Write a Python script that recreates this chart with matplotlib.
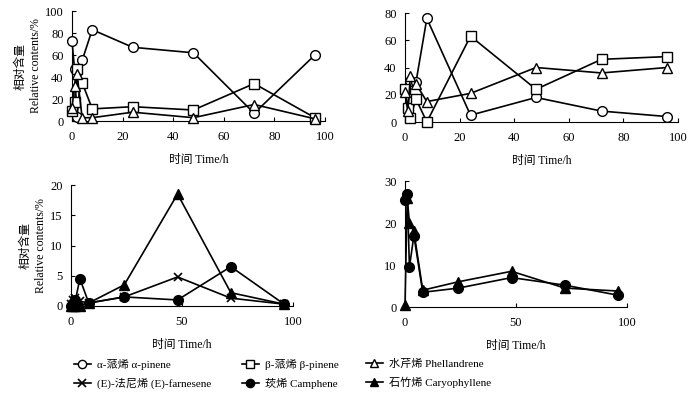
import matplotlib
matplotlib.use("Agg")
import matplotlib.pyplot as plt
from matplotlib.lines import Line2D
import numpy as np

plt.rcParams['font.family'] = ['Liberation Serif', 'Noto Sans CJK SC', 'DejaVu Sans']

# Time points (h)
time_h = [0, 1, 2, 4, 8, 24, 48, 72, 96]

# Top-left panel
tl_alpha = [73, 47, 4, 55, 83, 67, 62, 7, 60]
tl_beta = [9, 17, 47, 35, 11, 13, 10, 34, 3]
tl_phell = [12, 32, 43, 3, 3, 8, 3, 15, 2]

# Top-right panel
tr_alpha = [23, 9, 30, 29, 76, 5, 18, 8, 4]
tr_beta = [24, 10, 3, 17, 0, 63, 24, 46, 48]
tr_phell = [22, 8, 34, 28, 15, 21, 40, 36, 40]

# Bottom-left panel
bl_farn = [0.3, 1.0, 1.3, 0.8, 0.5, 1.5, 4.8, 1.3, 0.3]
bl_camph = [0, 0.5, 1.0, 4.5, 0.5, 1.5, 1.0, 6.5, 0.3]
bl_caryo = [0, 0, 0, 0, 0.5, 3.5, 18.5, 2.2, 0.3]

# Bottom-right panel
br_camph = [25.5, 27, 9.5, 17, 3.5, 4.5, 7, 5.2, 2.8]
br_caryo = [0.5, 26, 20, 18, 4, 6, 8.5, 4.5, 3.8]

legend_labels = ["α-蒎烯 α-pinene", "β-蒎烯 β-pinene", "水芹烯 Phellandrene",
                 "(E)-法尼烯 (E)-farnesene", "莰烯 Camphene", "石竹烯 Caryophyllene"]

top_xticks = [0, 20, 40, 60, 80, 100]
bot_xticks = [0, 50, 100]

W, H = 697, 397
fig = plt.figure(figsize=(W / 100, H / 100), dpi=100)

def ax_px(x0, x1, ytop, ybot):
    return fig.add_axes([x0 / W, 1 - ybot / H, (x1 - x0) / W, (ybot - ytop) / H])

styles = {
    'alpha': dict(marker='o', mfc='white', mec='black', ms=7),
    'beta': dict(marker='s', mfc='white', mec='black', ms=7),
    'phell': dict(marker='^', mfc='white', mec='black', ms=7),
    'farn': dict(marker='x', mfc='black', mec='black', ms=6, mew=1.2),
    'camph': dict(marker='o', mfc='black', mec='black', ms=7),
    'caryo': dict(marker='^', mfc='black', mec='black', ms=7),
}

def plot_series(ax, y, key):
    ax.plot(time_h, y, color='black', lw=1.2, clip_on=False, zorder=3, **styles[key])

def style_axes(ax, xticks, yticks, ylim, ylabel=True):
    ax.set_xlim(0, 100)
    ax.set_ylim(*ylim)
    ax.set_xticks(xticks)
    ax.set_yticks(yticks)
    for s in ['top', 'right']:
        ax.spines[s].set_visible(False)
    for s in ['left', 'bottom']:
        ax.spines[s].set_linewidth(0.8)
    ax.tick_params(direction='in', length=3, width=0.8, labelsize=9)
    ax.tick_params(axis='x', pad=7)
    ax.tick_params(axis='y', pad=6)
    ax.set_xlabel("时间 Time/h", fontsize=8.5, labelpad=8)
    if ylabel:
        ax.set_ylabel("相对含量\nRelative contents/%", fontsize=8.5, labelpad=2, linespacing=1.4)

ax1 = ax_px(72, 325, 11, 121)
plot_series(ax1, tl_alpha, 'alpha')
plot_series(ax1, tl_beta, 'beta')
plot_series(ax1, tl_phell, 'phell')
style_axes(ax1, top_xticks, [0, 20, 40, 60, 80, 100], (0, 100))

ax2 = ax_px(405, 678, 13, 122)
plot_series(ax2, tr_alpha, 'alpha')
plot_series(ax2, tr_beta, 'beta')
plot_series(ax2, tr_phell, 'phell')
style_axes(ax2, top_xticks, [0, 20, 40, 60, 80], (0, 80), ylabel=False)

ax3 = ax_px(71, 293, 185, 306)
plot_series(ax3, bl_farn, 'farn')
plot_series(ax3, bl_camph, 'camph')
plot_series(ax3, bl_caryo, 'caryo')
style_axes(ax3, bot_xticks, [0, 5, 10, 15, 20], (0, 20))

ax4 = ax_px(405, 627, 181, 307)
plot_series(ax4, br_camph, 'camph')
plot_series(ax4, br_caryo, 'caryo')
style_axes(ax4, bot_xticks, [0, 10, 20, 30], (0, 30), ylabel=False)

# Legend: three columns, two rows
keys = ['alpha', 'beta', 'phell', 'farn', 'camph', 'caryo']
handles = [Line2D([], [], color='black', lw=1.2, **styles[k]) for k in keys]
col_x = [68, 236, 360]
for c in range(3):
    hs = [handles[c], handles[c + 3]]
    ls = [legend_labels[c], legend_labels[c + 3]]
    fig.legend(hs, ls, loc='upper left', bbox_to_anchor=(col_x[c] / W, 1 - 353 / H),
               frameon=False, fontsize=8, handlelength=1.6, handletextpad=0.5,
               labelspacing=0.75, borderpad=0, markerscale=0.85)

fig.savefig("out.png", dpi=100)
